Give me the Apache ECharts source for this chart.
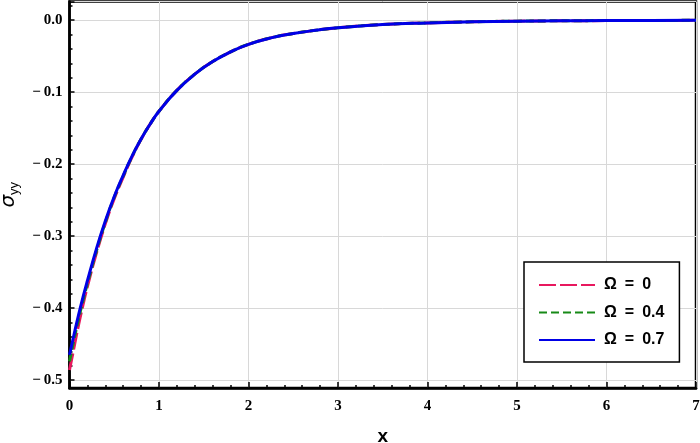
<!DOCTYPE html>
<html>
<head>
<meta charset="utf-8">
<script src="https://cdn.jsdelivr.net/npm/echarts@6/dist/echarts.min.js"></script>
<style>html,body{margin:0;padding:0;background:#fff}#c{width:700px;height:443px}</style>
</head>
<body>
<div id="c"></div>
<script>
const xValues = [0, 0.05, 0.1, 0.15, 0.2, 0.3, 0.4, 0.5, 0.6, 0.7, 0.8, 0.9, 1.0, 1.2, 1.4, 1.6, 1.8, 2.0, 2.25, 2.5, 2.75, 3.0, 3.5, 4.0, 4.5, 5.0, 5.5, 6.0, 6.5, 7.0];
const omega0 = [-0.486, -0.455, -0.424, -0.396, -0.370, -0.324, -0.283, -0.248, -0.218, -0.190, -0.1655, -0.1445, -0.1265, -0.0975, -0.075, -0.0575, -0.044, -0.0335, -0.0245, -0.0185, -0.014, -0.0105, -0.006, -0.0037, -0.0022, -0.0013, -0.0008, -0.0005, -0.0003, -0.0002];
const omega04 = [-0.474, -0.444, -0.416, -0.390, -0.366, -0.321, -0.281, -0.246, -0.2165, -0.189, -0.165, -0.1445, -0.1265, -0.0975, -0.075, -0.0575, -0.044, -0.0335, -0.0245, -0.0185, -0.014, -0.0105, -0.006, -0.0037, -0.0022, -0.0013, -0.0008, -0.0005, -0.0003, -0.0002];
const omega07 = [-0.465, -0.437, -0.410, -0.385, -0.362, -0.318, -0.279, -0.245, -0.2155, -0.1885, -0.165, -0.1445, -0.1265, -0.0975, -0.075, -0.0575, -0.044, -0.0335, -0.0245, -0.0185, -0.014, -0.0105, -0.006, -0.0037, -0.0022, -0.0013, -0.0008, -0.0005, -0.0003, -0.0002];
const seriesNames = ['Ω = 0', 'Ω = 0.4', 'Ω = 0.7'];

const pairs = arr => xValues.map((x, i) => [x, arr[i]]);
const fmtNum = v => {
  const s = v.toFixed(1);
  return v < 0 ? '\u2212\u2009' + s.slice(1) : s;
};
const chart = echarts.init(document.getElementById('c'), null, {renderer: 'canvas'});
const tickFont = {fontFamily: 'Liberation Serif', fontWeight: 'bold', fontSize: 15, color: '#000'};
chart.setOption({
  animation: false,
  backgroundColor: '#fff',
  grid: {left: 69.5, right: 4, top: 1.5, bottom: 55, containLabel: false, outerBoundsMode: 'none',
         show: true, borderColor: '#000', borderWidth: 2.5, backgroundColor: 'transparent'},
  legend: {
    orient: 'vertical', left: 524, top: 262,
    backgroundColor: '#fff', borderColor: '#000', borderWidth: 1.5,
    padding: [15, 15, 14, 14], itemGap: 11.5, itemWidth: 56, itemHeight: 16,
    itemStyle: {color: 'transparent', borderWidth: 0, opacity: 0},
    textStyle: {fontFamily: 'Liberation Sans', fontWeight: 'bold', fontSize: 16, color: '#000', lineHeight: 16, padding: [0, 0, 0, 4]},
    formatter: name => name.replace(/ /g, '\u2002'),
    data: seriesNames
  },
  xAxis: {
    type: 'value', min: 0, max: 7, interval: 1,
    name: 'x', nameLocation: 'middle', nameGap: 39,
    nameTextStyle: {fontFamily: 'Liberation Sans', fontWeight: 'bold', fontSize: 19, color: '#000'},
    axisLine: {onZero: false, lineStyle: {color: '#000', width: 2.5}},
    axisTick: {inside: true, length: 6, lineStyle: {color: '#000', width: 1.5}},
    minorTick: {show: true, splitNumber: 5, length: 3, lineStyle: {color: '#000', width: 1.5}},
    axisLabel: Object.assign({margin: 11}, tickFont),
    splitLine: {show: true, lineStyle: {color: '#d8d8d8', width: 1}}
  },
  yAxis: {
    type: 'value', min: -0.511, max: 0.026, splitNumber: 5,
    name: '{s|σ}{sub|yy}', nameLocation: 'middle', nameGap: 49, nameRotate: 90,
    nameTextStyle: {
      rich: {
        s: {fontFamily: 'DejaVu Sans', fontStyle: 'italic', fontSize: 20, color: '#000', lineHeight: 24, verticalAlign: 'middle'},
        sub: {fontFamily: 'Liberation Sans', fontSize: 13, color: '#000', lineHeight: 24, verticalAlign: 'bottom'}
      }
    },
    axisLine: {onZero: false, lineStyle: {color: '#000', width: 2.5}},
    axisTick: {inside: true, length: 5, lineStyle: {color: '#000', width: 1.5}},
    minorTick: {show: true, splitNumber: 5, length: 3, lineStyle: {color: '#000', width: 1.5}},
    axisLabel: Object.assign({margin: 7, showMinLabel: false, showMaxLabel: false, formatter: fmtNum}, tickFont),
    splitLine: {show: true, lineStyle: {color: '#d8d8d8', width: 1}}
  },
  series: [
    {name: seriesNames[0], type: 'line', data: pairs(omega0), symbol: 'none', smooth: true, color: '#e8185e', lineStyle: {width: 3, type: [17, 4]}},
    {name: seriesNames[1], type: 'line', data: pairs(omega04), symbol: 'none', smooth: true, color: '#178a17', lineStyle: {width: 3, type: [8, 4]}},
    {name: seriesNames[2], type: 'line', data: pairs(omega07), symbol: 'none', smooth: true, color: '#0000e6', lineStyle: {width: 3, type: 'solid'}}
  ]
});
</script>
</body>
</html>
